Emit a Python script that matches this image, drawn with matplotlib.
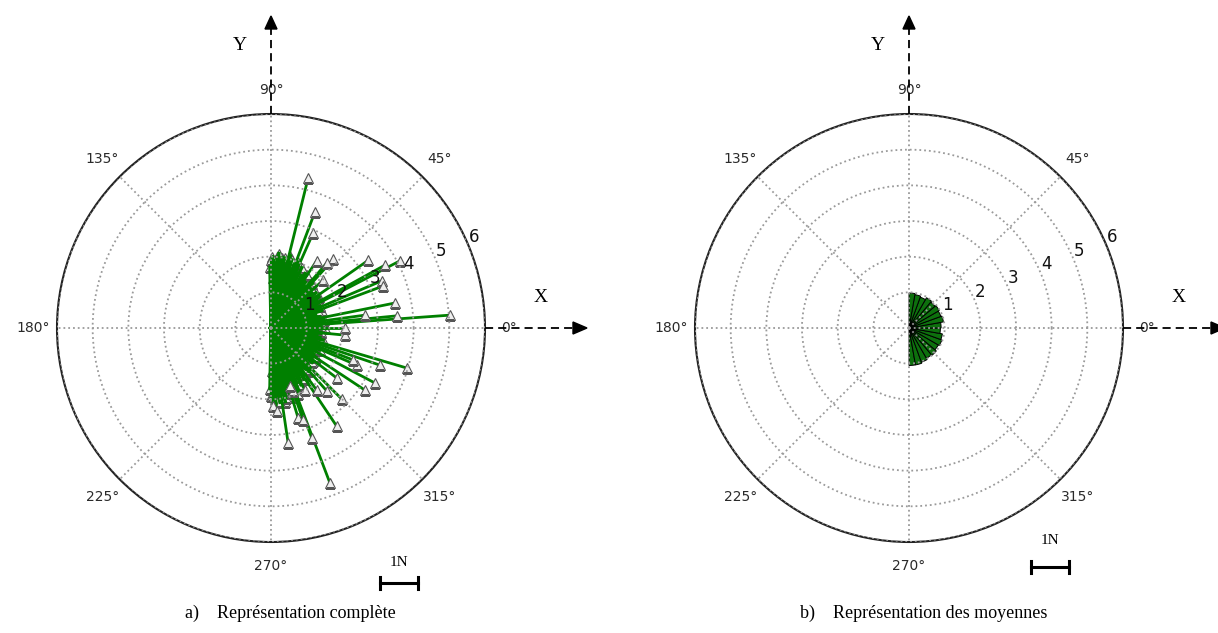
"""Polar force diagrams: full set of vectors vs. the averaged ones."""
import numpy as np
import matplotlib.pyplot as plt

# outer vectors of the full representation, components in N (Fx, Fy)
outer_fx = [1.04, 1.23, 1.18, 1.75, 2.73, 3.19, 3.61, 3.10, 3.15, 3.47, 3.52, 5.01,
            3.80, 3.05, 2.91, 2.63, 1.98, 2.40, 1.84, 1.65, 1.14, 0.48, 0.76, 0.90,
            0.06, 0.16, 0.62, 1.28, 1.56, 1.84, 2.07, 2.07, 2.63, 1.46, 1.28, 1.56,
            2.31, 0.53, 0.95]
outer_fy = [4.20, 3.25, 2.66, 1.93, 1.90, 1.76, 1.88, 1.32, 1.18, 0.70, 0.34, 0.36,
            -1.12, -1.04, -1.54, -1.74, -1.99, -1.04, -2.75, -4.34, -3.08, -3.22, -2.52, -2.58,
            -2.18, -2.32, -1.76, -1.74, -1.76, -1.40, -0.20, 0.00, 0.36, 1.34, 1.88, 1.82,
            -0.90, -1.62, -1.74]

# dense core of the full representation (angle in degrees, magnitude in N)
core_deg = [-90, -89, -87, -85, -83, -80, -78, -76, -73, -70, -68, -65, -62, -60, -57,
            -54, -50, -47, -44, -40, -36, -33, -30, -26, -22, -18, -15, -11, -8,
            -5, -2, 1, 4, 7, 10, 13, 17, 20, 24, 27, 31, 35, 38, 42, 45, 49, 53,
            56, 60, 63, 66, 70, 73, 76, 79, 82, 85, 88, 89, 90]
core_mag = [1.9, 1.9, 2.0, 1.8, 2.1, 1.9, 2.0, 1.7, 1.9, 1.8, 2.0, 1.7, 1.8, 1.6, 1.7,
            1.6, 1.5, 1.6, 1.4, 1.5, 1.4, 1.5, 1.3, 1.4, 1.3, 1.4, 1.3, 1.4, 1.3,
            1.4, 1.3, 1.4, 1.3, 1.4, 1.3, 1.4, 1.3, 1.4, 1.5, 1.4, 1.5, 1.4, 1.6,
            1.5, 1.6, 1.7, 1.6, 1.8, 1.7, 1.9, 1.8, 1.9, 2.0, 1.9, 2.0, 1.9, 2.0, 1.9, 2.0, 1.9]
core_deg2 = [-91, -88, -86, -84, -81, -79, -77, -74, -71, -69, -66, -63, -61, -58, -55,
             -52, -49, -45, -42, -38, -35, -31, -28, -24, -20, -16, -13, -9, -6, -3,
             0, 3, 6, 9, 12, 15, 19, 22, 26, 29, 33, 37, 40, 44, 47, 51, 54, 58, 61,
             65, 68, 71, 75, 78, 81, 84, 87, 91]
core_mag2 = [1.7, 2.2, 1.6, 1.9, 1.7, 2.1, 1.8, 2.0, 1.7, 1.6, 1.9, 1.5, 1.7, 1.5, 1.6,
             1.4, 1.6, 1.5, 1.3, 1.5, 1.2, 1.4, 1.3, 1.5, 1.2, 1.3, 1.5, 1.2, 1.4, 1.3,
             1.5, 1.2, 1.3, 1.5, 1.2, 1.3, 1.5, 1.2, 1.4, 1.3, 1.6, 1.3, 1.5, 1.4, 1.7,
             1.5, 1.6, 1.8, 1.5, 1.7, 2.0, 1.7, 2.1, 1.8, 2.0, 2.1, 1.8, 1.7]
core_deg3 = [-89, -84, -79, -74, -69, -64, -59, -53, -48, -43, -37, -32, -27, -21, -16,
             -10, -4, 2, 8, 14, 19, 25, 30, 36, 41, 46, 52, 57, 62, 67, 72, 77, 83, 88]
core_mag3 = [1.2, 1.0, 1.3, 1.1, 1.2, 0.9, 1.1, 1.0, 0.9, 1.1, 0.8, 1.0, 0.9, 1.1, 0.8,
             1.0, 0.9, 1.0, 0.8, 1.1, 0.9, 1.0, 0.8, 1.1, 0.9, 1.0, 1.2, 0.9, 1.1, 1.0,
             1.3, 1.1, 1.2, 1.4]

# averaged vectors (bar centre angle in degrees, mean magnitude in N)
mean_deg = [-85, -75, -65, -55, -45, -35, -25, -15, -5, 5, 15, 25, 35, 45, 55, 65, 75, 85]
mean_mag = [1.05, 1.05, 1.02, 0.98, 1.0, 0.95, 0.98, 0.95, 0.88, 0.9, 0.98, 0.95,
            0.98, 0.95, 0.98, 0.92, 0.95, 0.98]

W, H = 1218, 633
fig = plt.figure(figsize=(W / 100, H / 100), dpi=100)

centres = [271, 909]
cy = 328
rad = 214
green = (0, 0.5, 0)
tri = dict(ls='none', marker='^', ms=7, mfc='#eeeeee', mec='#555555', mew=0.8)


def polar_axes(cx):
    ax = fig.add_axes([(cx - rad) / W, 1 - (cy + rad) / H, 2 * rad / W, 2 * rad / H],
                      projection='polar')
    ax.set_ylim(0, 6)
    ax.set_yticks([1, 2, 3, 4, 5, 6])
    ax.set_rlabel_position(22.5)
    ax.set_thetagrids(np.arange(0, 360, 45))
    ax.grid(True, color='#9a9a9a', linestyle=':', linewidth=1.3)
    ax.set_axisbelow(False)
    ax.spines['polar'].set_color('#222222')
    ax.spines['polar'].set_linewidth(1.5)
    ax.tick_params(axis='x', labelsize=10, labelcolor='#2a2a2a', pad=7)
    ax.tick_params(axis='y', labelsize=12, labelcolor='#111111')
    return ax


# a) complete representation
ax1 = polar_axes(centres[0])
core_th = np.radians(core_deg2 + core_deg + core_deg3)
core_r = np.array(core_mag2 + core_mag + core_mag3)
out_th = np.arctan2(outer_fy, outer_fx)
out_r = np.hypot(outer_fx, outer_fy)

# core tips first, so the dense bundle of lines hides most of them
ax1.plot(core_th, core_r, zorder=1.8, **tri)
for th, r in zip(core_th, core_r):
    ax1.plot([th, th], [0, r], color=green, lw=2.4, zorder=1.9)
for th, r in zip(out_th, out_r):
    ax1.plot([th, th], [0, r], color=green, lw=2.0, zorder=2.0)
ax1.plot(out_th, out_r, zorder=2.1, **tri)

# b) averaged representation
ax2 = polar_axes(centres[1])
ax2.bar(np.radians(mean_deg), mean_mag, width=np.radians(10), color='#0d700d',
        edgecolor='black', linewidth=0.7)

# overlay for the axis arrows, labels and scale bars
ov = fig.add_axes([0, 0, 1, 1], facecolor='none')
ov.set_xlim(0, W)
ov.set_ylim(H, 0)
ov.axis('off')

dash = dict(color='black', lw=1.3, linestyle=(0, (4.5, 2.8)))
for cx in centres:
    ov.plot([cx, cx], [cy - rad, 29], **dash)
    ov.fill([cx - 6, cx + 6, cx], [29, 29, 16], color='black')
    x_end = 573 + (cx - centres[0])
    ov.plot([cx + rad, x_end], [cy, cy], **dash)
    ov.fill([x_end, x_end, x_end + 14], [cy - 6, cy + 6, cy], color='black')
    ov.text(cx - 31, 45, 'Y', family='Liberation Serif', fontsize=14, ha='center', va='center')
    ov.text(cx + 270, 298, 'X', family='Liberation Serif', fontsize=14, ha='center', va='center')

# scale bars
for bx, ty, by in [(399, 562, 583), (1050, 541, 567)]:
    ov.text(bx, ty, '1N', family='Liberation Serif', fontsize=11, ha='center', va='center')
    ov.plot([bx - 19, bx + 19], [by, by], color='black', lw=2.2)
    ov.plot([bx - 19, bx - 19], [by - 6, by + 6], color='black', lw=2.2)
    ov.plot([bx + 19, bx + 19], [by - 6, by + 6], color='black', lw=2.2)

ov.text(185, 613, 'a)    Représentation complète', family='Liberation Serif',
        fontsize=13, ha='left', va='center')
ov.text(800, 613, 'b)    Représentation des moyennes', family='Liberation Serif',
        fontsize=13, ha='left', va='center')

fig.savefig('out.png', dpi=100)
